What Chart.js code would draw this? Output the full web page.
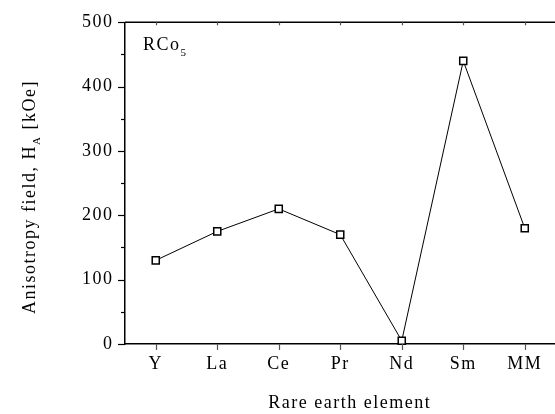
<!DOCTYPE html>
<html><head><meta charset="utf-8">
<script src="https://cdn.jsdelivr.net/npm/chart.js@4/dist/chart.umd.min.js"></script>
<style>html,body{margin:0;padding:0;overflow:hidden;background:#fff}#wrap{width:562px;height:414px}</style>
</head><body><div id="wrap"><canvas id="c" width="562" height="414"></canvas></div>
<script>
const categories = ["Y","La","Ce","Pr","Nd","Sm","MM"];
const anisotropy = [130,175,210,170,5,440,180];
const yTicks = [0,100,200,300,400,500];
const FONT = "'Liberation Serif','Times New Roman',serif";
const LS = 1.5;

const spacing = {
  id:'spacing',
  beforeDraw(chart){ chart.ctx.letterSpacing = LS+'px'; }
};

const deco = {
  id:'deco',
  afterDraw(chart){
    const ctx = chart.ctx, a = chart.chartArea, x = chart.scales.x, y = chart.scales.y;
    ctx.save();
    ctx.letterSpacing = LS+'px';
    ctx.strokeStyle = '#000'; ctx.lineWidth = 1.5;
    ctx.beginPath();
    ctx.moveTo(a.left, a.top); ctx.lineTo(a.right, a.top);
    ctx.stroke();
    ctx.lineWidth = 1.2;
    for (let v=0; v<=500; v+=50){
      const py = Math.round(y.getPixelForValue(v))+0.5;
      const len = (v%100===0)?7:4;
      ctx.beginPath(); ctx.moveTo(a.left-len, py); ctx.lineTo(a.left, py); ctx.stroke();
    }
    ctx.strokeStyle = '#555';
    categories.forEach((c,i)=>{
      const px = Math.round(x.getPixelForValue(i))+0.5;
      ctx.beginPath(); ctx.moveTo(px, a.bottom); ctx.lineTo(px, a.bottom+6); ctx.stroke();
      ctx.beginPath(); ctx.moveTo(px, a.top); ctx.lineTo(px, a.top+3); ctx.stroke();
    });
    ctx.fillStyle = '#000';
    ctx.font = '18px '+FONT; ctx.textBaseline='alphabetic'; ctx.textAlign='left';
    ctx.fillText('RCo', 143, 50);
    const w = ctx.measureText('RCo').width;
    ctx.font = '11px '+FONT; ctx.fillText('5', 143+w, 56);
    ctx.font = '18px '+FONT; ctx.textAlign='left';
    const tw = ctx.measureText('Rare earth element').width - LS;
    ctx.fillText('Rare earth element', 349 - tw/2, 408);
    ctx.translate(35, 197); ctx.rotate(-Math.PI/2);
    const p1='Anisotropy field, H', p2='A', p3=' [kOe]';
    ctx.font='18px '+FONT; const w1=ctx.measureText(p1).width, w3=ctx.measureText(p3).width;
    ctx.font='11px '+FONT; const w2=ctx.measureText(p2).width;
    let sx = -(w1+w2+w3)/2;
    ctx.font='18px '+FONT; ctx.fillText(p1, sx, 0); sx+=w1;
    ctx.font='11px '+FONT; ctx.fillText(p2, sx, 5); sx+=w2;
    ctx.font='18px '+FONT; ctx.fillText(p3, sx, 0);
    ctx.restore();
  }
};

new Chart(document.getElementById('c'), {
  type:'line',
  data:{labels:categories, datasets:[{
    data:anisotropy, borderColor:'#000', borderWidth:1, backgroundColor:'#fff',
    pointStyle:'rect', pointRadius:5, pointBorderWidth:1.5, pointBorderColor:'#000',
    pointBackgroundColor:'#fff', tension:0, clip:false
  }]},
  options:{
    responsive:false, animation:false,
    layout:{padding:{left:0,right:3,top:14,bottom:0}},
    plugins:{legend:{display:false}, tooltip:{enabled:false}},
    scales:{
      x:{type:'category', offset:true,
        grid:{display:false, drawTicks:false}, border:{display:true,color:'#000',width:1.5},
        ticks:{color:'#000', font:{family:FONT,size:18}, padding:9, maxRotation:0},
        afterFit(s){ s.height = 70; }
      },
      y:{min:0,max:500,
        afterBuildTicks(s){ s.ticks = yTicks.map(v=>({value:v})); },
        grid:{display:false, drawTicks:false}, border:{display:true,color:'#000',width:1.5},
        ticks:{color:'#000', font:{family:FONT,size:18}, padding:11.5},
        afterFit(s){ s.width = 125; }
      }
    }
  },
  plugins:[spacing, deco]
});
</script></body></html>
